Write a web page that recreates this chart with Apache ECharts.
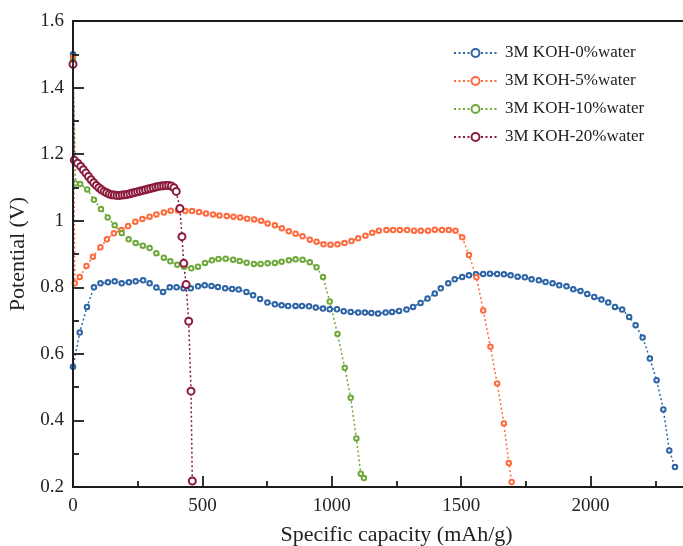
<!DOCTYPE html>
<html>
<head>
<meta charset="utf-8">
<script src="https://cdn.jsdelivr.net/npm/echarts@6/dist/echarts.min.js"></script>
<style>
  html, body { margin: 0; padding: 0; background: #fff; }
  #chart { width: 683px; height: 546px; }
</style>
</head>
<body>
<div id="chart"></div>
<script>
// Discharge curves: specific capacity (mAh/g) vs potential (V)
const seriesNames = ['3M KOH-0%water', '3M KOH-5%water', '3M KOH-10%water', '3M KOH-20%water'];

const cap0 = [0, 0, 26, 54, 81, 106, 135, 161, 188, 216, 242, 271, 296, 322, 348, 374, 400, 427, 455, 483, 509, 535, 560, 588, 615, 640, 670, 696, 723, 751, 780, 806, 831, 860, 885, 912, 938, 966, 992, 1020, 1046, 1073, 1102, 1128, 1153, 1179, 1208, 1233, 1260, 1289, 1314, 1343, 1370, 1398, 1421, 1450, 1475, 1504, 1530, 1557, 1585, 1611, 1639, 1665, 1691, 1718, 1746, 1772, 1800, 1826, 1853, 1879, 1907, 1933, 1961, 1987, 2014, 2042, 2068, 2094, 2122, 2149, 2174, 2201, 2229, 2255, 2281, 2304, 2326];
const pot0 = [1.50, 0.561, 0.664, 0.741, 0.800, 0.812, 0.815, 0.818, 0.812, 0.815, 0.818, 0.821, 0.812, 0.799, 0.786, 0.800, 0.800, 0.797, 0.797, 0.803, 0.806, 0.804, 0.801, 0.797, 0.795, 0.793, 0.786, 0.776, 0.765, 0.754, 0.749, 0.746, 0.744, 0.744, 0.744, 0.743, 0.739, 0.736, 0.734, 0.734, 0.728, 0.726, 0.724, 0.724, 0.723, 0.721, 0.724, 0.726, 0.729, 0.733, 0.741, 0.753, 0.766, 0.781, 0.797, 0.812, 0.824, 0.831, 0.836, 0.839, 0.840, 0.841, 0.840, 0.839, 0.836, 0.832, 0.830, 0.824, 0.821, 0.816, 0.812, 0.806, 0.803, 0.794, 0.789, 0.780, 0.771, 0.763, 0.754, 0.741, 0.733, 0.711, 0.686, 0.649, 0.586, 0.521, 0.433, 0.310, 0.260];

const cap5 = [0, 7, 26, 52, 77, 106, 131, 158, 187, 213, 241, 268, 296, 322, 351, 378, 406, 434, 460, 487, 514, 541, 566, 594, 620, 646, 673, 700, 727, 752, 780, 807, 834, 860, 887, 915, 941, 968, 995, 1022, 1049, 1076, 1102, 1130, 1156, 1182, 1211, 1237, 1263, 1291, 1318, 1344, 1372, 1398, 1426, 1452, 1478, 1504, 1530, 1559, 1585, 1613, 1639, 1665, 1684, 1695];
const pot5 = [1.49, 0.812, 0.831, 0.864, 0.892, 0.920, 0.944, 0.962, 0.972, 0.984, 0.997, 1.005, 1.012, 1.019, 1.025, 1.030, 1.031, 1.029, 1.029, 1.026, 1.022, 1.019, 1.016, 1.014, 1.012, 1.010, 1.006, 1.004, 1.000, 0.992, 0.986, 0.977, 0.968, 0.961, 0.953, 0.943, 0.937, 0.929, 0.928, 0.929, 0.933, 0.939, 0.947, 0.955, 0.964, 0.970, 0.972, 0.972, 0.972, 0.972, 0.970, 0.970, 0.970, 0.973, 0.972, 0.972, 0.970, 0.950, 0.897, 0.830, 0.730, 0.621, 0.511, 0.391, 0.272, 0.215];

const cap10 = [0, 10, 28, 55, 81, 108, 134, 161, 188, 215, 242, 270, 296, 322, 351, 376, 403, 429, 457, 483, 510, 537, 562, 590, 619, 644, 671, 699, 725, 752, 780, 806, 834, 860, 887, 915, 941, 966, 992, 1022, 1050, 1073, 1095, 1112, 1124];
const pot10 = [1.48, 1.112, 1.110, 1.094, 1.063, 1.035, 1.010, 0.986, 0.963, 0.944, 0.933, 0.925, 0.918, 0.902, 0.889, 0.878, 0.868, 0.862, 0.857, 0.862, 0.873, 0.881, 0.885, 0.886, 0.883, 0.879, 0.874, 0.870, 0.870, 0.872, 0.873, 0.877, 0.881, 0.884, 0.883, 0.875, 0.860, 0.831, 0.757, 0.660, 0.558, 0.468, 0.346, 0.240, 0.227];

const cap20 = [0, 5, 18, 30, 40, 50, 60, 70, 80, 90, 100, 110, 120, 130, 140, 150, 160, 170, 180, 190, 200, 210, 220, 230, 240, 250, 260, 270, 280, 290, 300, 310, 320, 330, 340, 350, 360, 370, 380, 390, 399, 413, 421, 428, 437, 447, 456, 461];
const pot20 = [1.47, 1.182, 1.173, 1.163, 1.153, 1.143, 1.133, 1.123, 1.114, 1.106, 1.099, 1.093, 1.088, 1.084, 1.080, 1.078, 1.077, 1.076, 1.076, 1.077, 1.078, 1.079, 1.081, 1.083, 1.085, 1.087, 1.089, 1.091, 1.093, 1.095, 1.097, 1.099, 1.101, 1.103, 1.104, 1.105, 1.106, 1.106, 1.104, 1.099, 1.088, 1.037, 0.952, 0.872, 0.808, 0.698, 0.488, 0.218];

const xTicks = { min: 0, max: 2500, step: 500 };
const yTicks = { min: 0.2, max: 1.6, step: 0.2 };

const colors = ['#2d64a6', '#ff6a3d', '#6fa83a', '#8b1a3c'];
const FONT = '"Liberation Serif", "Times New Roman", serif';
const AXIS_COLOR = '#1c1c1c';

function pairs(xs, ys) {
  return xs.map((x, i) => [x, ys[i]]);
}

function makeSeries(name, xs, ys, color, size, width) {
  return {
    name: name,
    type: 'line',
    data: pairs(xs, ys),
    symbol: 'emptyCircle',
    symbolSize: size,
    showSymbol: true,
    smooth: false,
    clip: true,
    z: 2,
    itemStyle: { color: color, borderColor: color, borderWidth: width },
    lineStyle: { color: color, width: 1.5, type: [2, 2.5] },
    emphasis: { disabled: true }
  };
}

const chart = echarts.init(document.getElementById('chart'), null, { renderer: 'canvas' });

// The frame continues past the right edge of the canvas, so the plot
// is sized explicitly and allowed to overflow the container.
chart.setOption({
  animation: false,
  backgroundColor: '#fff',
  color: colors,
  grid: {
    left: 73, top: 21, width: 647, height: 466,
    outerBoundsMode: 'none',
    containLabel: false,
    show: true, borderColor: AXIS_COLOR, borderWidth: 1.8, backgroundColor: 'transparent'
  },
  legend: {
    orient: 'vertical',
    left: 448, top: 38,
    itemWidth: 43, itemHeight: 10, itemGap: 8,
    data: seriesNames,
    textStyle: { fontFamily: FONT, fontSize: 17, color: '#222', lineHeight: 20, padding: [0, 0, 0, 3] }
  },
  xAxis: {
    type: 'value',
    z: 5,
    min: xTicks.min, max: xTicks.max, interval: xTicks.step,
    name: 'Specific capacity (mAh/g)',
    nameLocation: 'middle', nameGap: 37,
    nameTextStyle: { fontFamily: FONT, fontSize: 22, color: '#222' },
    axisLine: { show: true, onZero: false, lineStyle: { color: AXIS_COLOR, width: 1.8 } },
    axisTick: { show: true, inside: true, length: 11, lineStyle: { color: AXIS_COLOR, width: 1.8 } },
    minorTick: { show: true, splitNumber: 2, length: 6, lineStyle: { color: AXIS_COLOR, width: 1.8 } },
    axisLabel: { fontFamily: FONT, fontSize: 19, color: '#222', margin: 10, formatter: v => String(v) },
    splitLine: { show: false }
  },
  yAxis: {
    type: 'value',
    z: 5,
    min: yTicks.min, max: yTicks.max, interval: yTicks.step,
    name: 'Potential (V)',
    nameLocation: 'middle', nameGap: 39,
    nameTextStyle: { fontFamily: FONT, fontSize: 22, color: '#222' },
    axisLine: { show: true, onZero: false, lineStyle: { color: AXIS_COLOR, width: 1.8 } },
    axisTick: { show: true, inside: true, length: 11, lineStyle: { color: AXIS_COLOR, width: 1.8 } },
    minorTick: { show: true, splitNumber: 2, length: 6, lineStyle: { color: AXIS_COLOR, width: 1.8 } },
    axisLabel: {
      fontFamily: FONT, fontSize: 19, color: '#222', margin: 9,
      formatter: v => String(Math.round(v * 10) / 10)
    },
    splitLine: { show: false }
  },
  series: [
    makeSeries(seriesNames[0], cap0, pot0, colors[0], 4.5, 1.4),
    makeSeries(seriesNames[1], cap5, pot5, colors[1], 4.5, 1.4),
    makeSeries(seriesNames[2], cap10, pot10, colors[2], 4.5, 1.4),
    makeSeries(seriesNames[3], cap20, pot20, colors[3], 7, 1.8)
  ]
});
</script>
</body>
</html>
